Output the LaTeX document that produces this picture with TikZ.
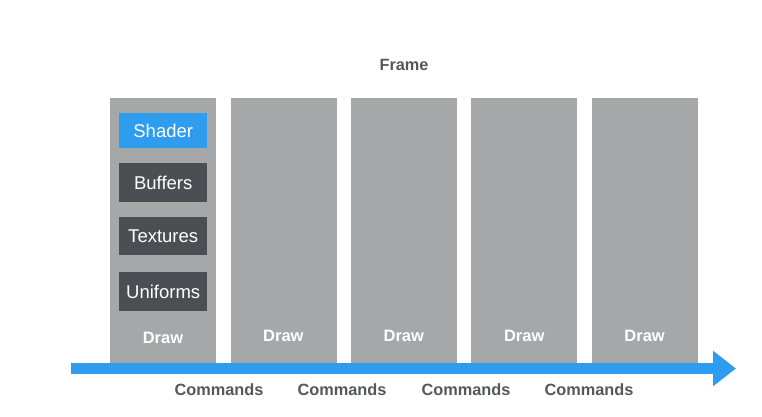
\documentclass[tikz,border=0pt]{standalone}
\usepackage{fontspec}
\setmainfont{Liberation Sans}
\usetikzlibrary{arrows.meta}
\definecolor{colgrey}{HTML}{A5A7A8}
\definecolor{boxdark}{HTML}{4B4E53}
\definecolor{arrowblue}{HTML}{2E9DF0}
\definecolor{labelgrey}{HTML}{555759}
\tikzset{
  colbox/.style={fill=colgrey, draw=none, anchor=north west, minimum width=106pt, minimum height=265.4pt, inner sep=0pt},
  itembox/.style={fill=boxdark, draw=none, anchor=north west, minimum width=88pt, inner sep=0pt, text=white, font=\fontsize{18.5}{20}\selectfont},
  shaderbox/.style={itembox, fill=arrowblue},
  drawlbl/.style={text=white, font=\bfseries\fontsize{16.5}{18}\selectfont, inner sep=0pt},
  cmdlbl/.style={text=labelgrey, font=\bfseries\fontsize{16.3}{18}\selectfont, inner sep=0pt},
  timeline/.style={draw=arrowblue, line width=11.6pt, -{Triangle[length=23pt,width=34pt]}}
}
\begin{document}
\begin{tikzpicture}[x=1pt,y=-1pt]
\useasboundingbox (0,0) rectangle (762,416);
\node[cmdlbl] (frame) at (404,65) {Frame};
% columns
\node[colbox] (c1) at (110,97.3) {};
\node[colbox] (c2) at (230.4,97.3) {};
\node[colbox] (c3) at (350.8,97.3) {};
\node[colbox] (c4) at (471.2,97.3) {};
\node[colbox] (c5) at (591.6,97.3) {};
% items in first column
\node[shaderbox, minimum height=35pt] (shader) at (119,112.7) {Shader};
\node[itembox, minimum height=39pt] (buffers) at (119,162.7) {Buffers};
\node[itembox, minimum height=38.3pt] (textures) at (119,216.7) {Textures};
\node[itembox, minimum height=39pt] (uniforms) at (119,271.7) {Uniforms};
% draw labels
\node[drawlbl] (d1) at (163,338) {Draw};
\node[drawlbl] (d2) at (283.4,336) {Draw};
\node[drawlbl] (d3) at (403.8,336) {Draw};
\node[drawlbl] (d4) at (524.2,336) {Draw};
\node[drawlbl] (d5) at (644.6,336) {Draw};
% timeline
\coordinate (tstart) at (71,368.5);
\coordinate (tend) at (736,368.5);
\draw[timeline] (tstart) -- (tend);
% command labels
\node[cmdlbl] (k1) at (219,390) {Commands};
\node[cmdlbl] (k2) at (342,390) {Commands};
\node[cmdlbl] (k3) at (466,390) {Commands};
\node[cmdlbl] (k4) at (589,390) {Commands};
\end{tikzpicture}
\end{document}
